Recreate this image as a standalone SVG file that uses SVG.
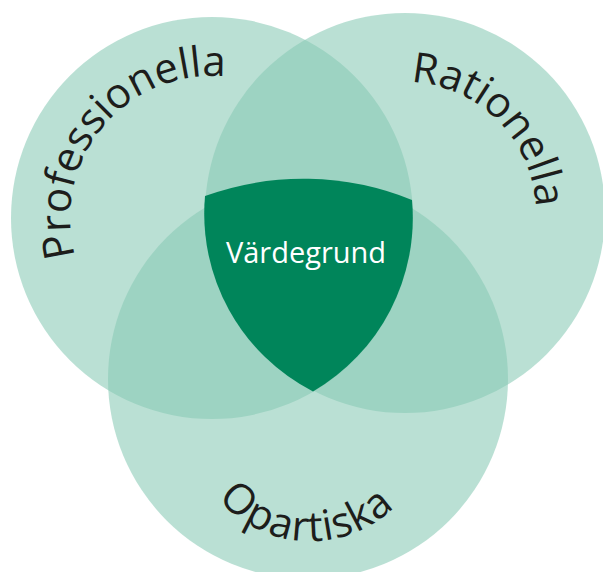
<svg xmlns="http://www.w3.org/2000/svg" width="603" height="572" viewBox="0 0 603 572">
  <style>
    .set { fill: #88cab5; fill-opacity: 0.58; }
    .label { font-family: "Open Sans", "Liberation Sans", sans-serif; font-size: 42px; font-weight: 500; fill: #1d1d1b; }
    .core-label { font-family: "Open Sans", "Liberation Sans", sans-serif; font-size: 29px; fill: #ffffff; }
  </style>
  <defs>
    <path id="arcProf" d="M100.9,306.4 A142,142 0 0 1 286.2,96.9"/>
    <path id="arcRat" d="M329.9,105.7 A131,131 0 0 1 512.3,288.1"/>
    <path id="arcOpa" d="M190.2,436 A121,121 0 0 0 428.4,446"/>
  </defs>
  <rect width="603" height="572" fill="#ffffff"/>
  <g id="professionella">
    <circle class="set" cx="212" cy="218" r="201"/>
    <text class="label"><textPath href="#arcProf" startOffset="49%" text-anchor="middle">Professionella</textPath></text>
  </g>
  <g id="rationella">
    <circle class="set" cx="405" cy="213" r="200"/>
    <text class="label"><textPath href="#arcRat" startOffset="50%" text-anchor="middle">Rationella</textPath></text>
  </g>
  <g id="opartiska">
    <circle class="set" cx="308" cy="379" r="200"/>
    <text class="label" letter-spacing="1"><textPath href="#arcOpa" startOffset="50%" text-anchor="middle">Opartiska</textPath></text>
  </g>
  <g id="vardegrund">
    <path d="M205,196 A289,289 0 0 1 412,200 A201,201 0 0 1 313,391.5 A200,200 0 0 1 205,196 Z" fill="#00855a"/>
    <text class="core-label" x="306" y="263" text-anchor="middle">Värdegrund</text>
  </g>
</svg>
